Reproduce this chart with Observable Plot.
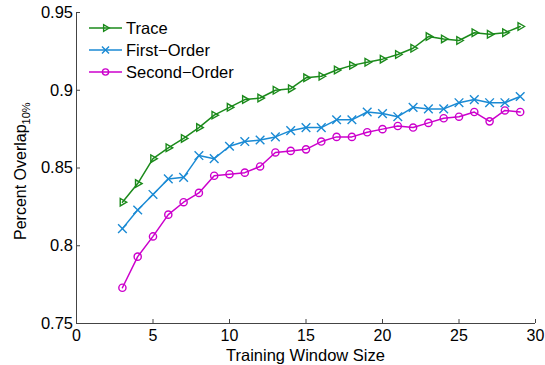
<!DOCTYPE html>
<html>
<head>
<meta charset="utf-8">
<script src="https://cdn.jsdelivr.net/npm/d3@7"></script>
<script src="https://cdn.jsdelivr.net/npm/@observablehq/plot@0.6"></script>
<style>
  body { margin: 0; background: #fff; }
  #chart { position: relative; width: 545px; height: 365px; font-family: "Liberation Sans", Arial, Helvetica, sans-serif; }
  #legend { position: absolute; left: 88px; top: 16px; }
</style>
</head>
<body>
<div id="chart"></div>
<script>
// Training window sizes and mean overlap for each model
const windowSizes = [3,4,5,6,7,8,9,10,11,12,13,14,15,16,17,18,19,20,21,22,23,24,25,26,27,28,29];
const trace = [0.828,0.840,0.856,0.863,0.869,0.876,0.884,0.889,0.894,0.895,0.900,0.901,0.908,0.909,0.913,0.916,0.918,0.920,0.923,0.927,0.9345,0.933,0.932,0.937,0.936,0.937,0.941];
const firstOrder = [0.811,0.823,0.833,0.843,0.844,0.858,0.856,0.864,0.867,0.868,0.870,0.874,0.876,0.876,0.881,0.881,0.886,0.885,0.883,0.889,0.888,0.888,0.892,0.894,0.892,0.892,0.896];
const secondOrder = [0.773,0.793,0.806,0.820,0.828,0.834,0.845,0.846,0.847,0.851,0.860,0.861,0.862,0.867,0.870,0.870,0.873,0.875,0.877,0.876,0.879,0.882,0.883,0.886,0.880,0.887,0.886];

const seriesNames = ["Trace", "First\u2212Order", "Second\u2212Order"];
const seriesColors = ["#1b8a1b", "#1a8ad4", "#cc00cc"];
const seriesSymbols = ["triangle2", "times", "circle"];
const seriesRotate = [90, 0, 0];

const xTicks = [0, 5, 10, 15, 20, 25, 30];
const yTicks = [0.75, 0.8, 0.85, 0.9, 0.95];

// long-format table built from the arrays above
const seriesValues = [trace, firstOrder, secondOrder];
const rows = seriesValues.flatMap((vals, s) =>
  vals.map((v, i) => ({ size: windowSizes[i], value: v, series: seriesNames[s] })));

const axisColor = "#444";
const fontFamily = '"Liberation Sans", Arial, Helvetica, sans-serif';
const fontSize = 16.5;

const marks = [];
seriesNames.forEach((name, s) => {
  const data = rows.filter(d => d.series === name);
  marks.push(Plot.line(data, { x: "size", y: "value", stroke: seriesColors[s], strokeWidth: 1.5 }));
  marks.push(Plot.dot(data, {
    x: "size", y: "value", stroke: seriesColors[s], fill: "none",
    symbol: seriesSymbols[s], rotate: seriesRotate[s], r: s === 1 ? 4 : 3.6, strokeWidth: 1.4
  }));
});

const chart = Plot.plot({
  width: 545,
  height: 365,
  marginLeft: 76,
  marginRight: 10,
  marginTop: 12,
  marginBottom: 42,
  style: { fontFamily, fontSize: fontSize + "px", color: "#000", background: "#fff" },
  x: { domain: [0, 30] },
  y: { domain: [0.75, 0.95] },
  marks: [
    Plot.axisX(xTicks, { tickSize: -4, tickPadding: 10.5, stroke: axisColor, fill: "#000", label: null, fontSize: 16, tickFormat: d3.format("d") }),
    Plot.axisY(yTicks, { tickSize: -4, tickPadding: 7.5, stroke: axisColor, fill: "#000", label: null, fontSize, tickFormat: d => String(d) }),
    Plot.ruleY([0.75], { stroke: axisColor, strokeWidth: 1 }),
    Plot.ruleX([0], { stroke: axisColor, strokeWidth: 1 }),
    ...marks
  ]
});

const svg = d3.select(chart);

// axis titles
svg.append("text")
  .attr("x", 305.5).attr("y", 361)
  .attr("text-anchor", "middle")
  .attr("font-size", fontSize).attr("fill", "#000")
  .text("Training Window Size");

const yTitle = svg.append("text")
  .attr("transform", "translate(25.5,240) rotate(-90)")
  .attr("text-anchor", "start")
  .attr("font-size", 16).attr("fill", "#000");
yTitle.append("tspan").text("Percent Overlap");
yTitle.append("tspan").attr("font-size", 11).attr("dy", 4).text("10%");

document.getElementById("chart").append(chart);

// legend
const legend = d3.select("#chart").append("svg")
  .attr("id", "legend").attr("width", 180).attr("height", 70)
  .style("font-family", fontFamily);
seriesNames.forEach((name, s) => {
  const g = legend.append("g").attr("transform", `translate(0,${12 + s * 22})`);
  g.append("line").attr("x1", 1).attr("x2", 34).attr("stroke", seriesColors[s]).attr("stroke-width", 1.5);
  const sym = d3.symbol().type({ triangle2: d3.symbolTriangle2, times: d3.symbolTimes, circle: d3.symbolCircle }[seriesSymbols[s]]).size(s === 1 ? 34 : 30);
  g.append("path").attr("d", sym()).attr("transform", `translate(17.5,0) rotate(${seriesRotate[s]})`)
    .attr("fill", "none").attr("stroke", seriesColors[s]).attr("stroke-width", 1.4);
  g.append("text").attr("x", 38).attr("y", 6).attr("font-size", fontSize).attr("fill", "#000").text(name);
});
</script>
</body>
</html>
